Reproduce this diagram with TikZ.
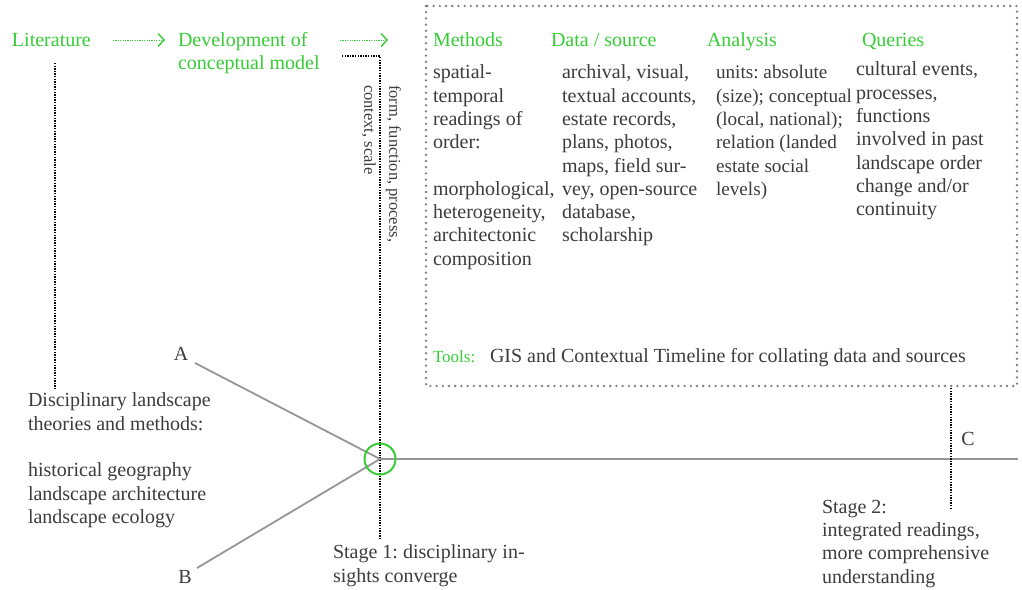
\documentclass[tikz,border=0pt]{standalone}
\usepackage{fontspec}
\setmainfont{Liberation Serif}
\usetikzlibrary{arrows.meta}
\definecolor{lgreen}{RGB}{55,205,55}
\definecolor{txt}{RGB}{60,60,60}
\definecolor{lgray}{RGB}{150,150,150}
\definecolor{bgray}{RGB}{125,125,125}
\begin{document}
\frenchspacing
\begin{tikzpicture}[x=1pt,y=-1pt,
  every node/.style={inner sep=0pt,outer sep=0pt,text=txt,font=\frenchspacing\fontsize{20}{23.3}\selectfont},
  gtxt/.style={text=lgreen},
  col/.style={align=left,anchor=north west},
  blkdot/.style={black,line width=1.3pt,dash pattern=on 1.3pt off 1.3pt},
  garrow/.style={lgreen,line width=1pt,dash pattern=on 1.2pt off 1.2pt,-{Straight Barb[length=6pt,width=13pt,line width=1.4pt]}},
  branch/.style={lgray,line width=1.8pt},
  boxdot/.style={bgray,line width=2.6pt,dash pattern=on 0pt off 6.2pt,line cap=round}]
\useasboundingbox (0,0) rectangle (1022,589);
\fill[white] (0,0) rectangle (1022,589);

% top chain
\node[gtxt,anchor=base west] (lit) at (12,46) {Literature};
\node[gtxt,align=left,anchor=north west] (dev) at (178,32) {Development of\\conceptual model};
\coordinate (a1s) at (113,40); \coordinate (a1e) at (165,40);
\coordinate (a2s) at (340,40); \coordinate (a2e) at (388,40);
\draw[garrow] (a1s) -- (a1e);
\draw[garrow] (a2s) -- (a2e);

% literature dotted line
\coordinate (lt) at (55,63); \coordinate (lb) at (55,390);
\draw[blkdot] (lt) -- (lb);
\node[align=left,anchor=north west] (disc) at (28,393) {Disciplinary landscape\\theories and methods:\\[23.3pt]historical geography\\landscape architecture\\landscape ecology};

% conceptual model dotted line
\coordinate (c0) at (342,56); \coordinate (c1) at (380,56); \coordinate (c2) at (380,540);
\draw[blkdot] (c0) -- (c1) -- (c2);
\node[rotate=-90,align=left,anchor=north west,font=\frenchspacing\fontsize{16.5}{25}\selectfont] (ffp) at (401,85) {form, function, process,\\context, scale};

% branches
\coordinate (hub) at (380,459);
\node (A) at (181,354) {A};
\node (B) at (185,577) {B};
\coordinate (Aend) at (195,363);
\coordinate (Bend) at (197,568);
\coordinate (rend) at (1018,459);
\draw[branch] (Aend) -- (hub);
\draw[branch] (Bend) -- (hub);
\draw[branch] (hub) -- (rend);
\node[draw=lgreen,line width=2pt,circle,minimum size=31pt] (circ) at (hub) {};
\node[align=left,anchor=north west] (st1) at (333,545) {Stage 1: disciplinary in-\\sights converge};

% box
\draw[boxdot] (426,6) rectangle (1017,386);
\node[gtxt,anchor=base west] (hm) at (433,46) {Methods};
\node[gtxt,anchor=base west] (hd) at (551,46) {Data / source};
\node[gtxt,anchor=base west] (ha) at (707,46) {Analysis};
\node[gtxt,anchor=base west] (hq) at (862,46) {Queries};
\node[col] (cm) at (433,65) {spatial-\\temporal\\readings of\\order:\\[23.3pt]morphological,\\heterogeneity,\\architectonic\\composition};
\node[col] (cd) at (562,65) {archival, visual,\\textual accounts,\\estate records,\\plans, photos,\\maps, field sur-\\vey, open-source\\database,\\scholarship};
\node[col,font=\frenchspacing\fontsize{19.2}{23.3}\selectfont] (ca) at (716,65.5) {units: absolute\\(size); conceptual\\(local, national);\\relation (landed\\estate social\\levels)};
\node[col] (cq) at (856,62) {cultural events,\\processes,\\functions\\involved in past\\landscape order\\change and/or\\continuity};
\node[gtxt,anchor=base west,font=\fontsize{17}{20}\selectfont] (tl) at (433,362) {Tools:};
\node[anchor=base west] (tt) at (490,362) {GIS and Contextual Timeline for collating data and sources};

% stage 2
\coordinate (s2t) at (951,388); \coordinate (s2b) at (951,510);
\draw[blkdot] (s2t) -- (s2b);
\node (C) at (968,439) {C};
\node[align=left,anchor=north west] (st2) at (822,500) {Stage 2:\\integrated readings,\\more comprehensive\\understanding};
\end{tikzpicture}
\end{document}
